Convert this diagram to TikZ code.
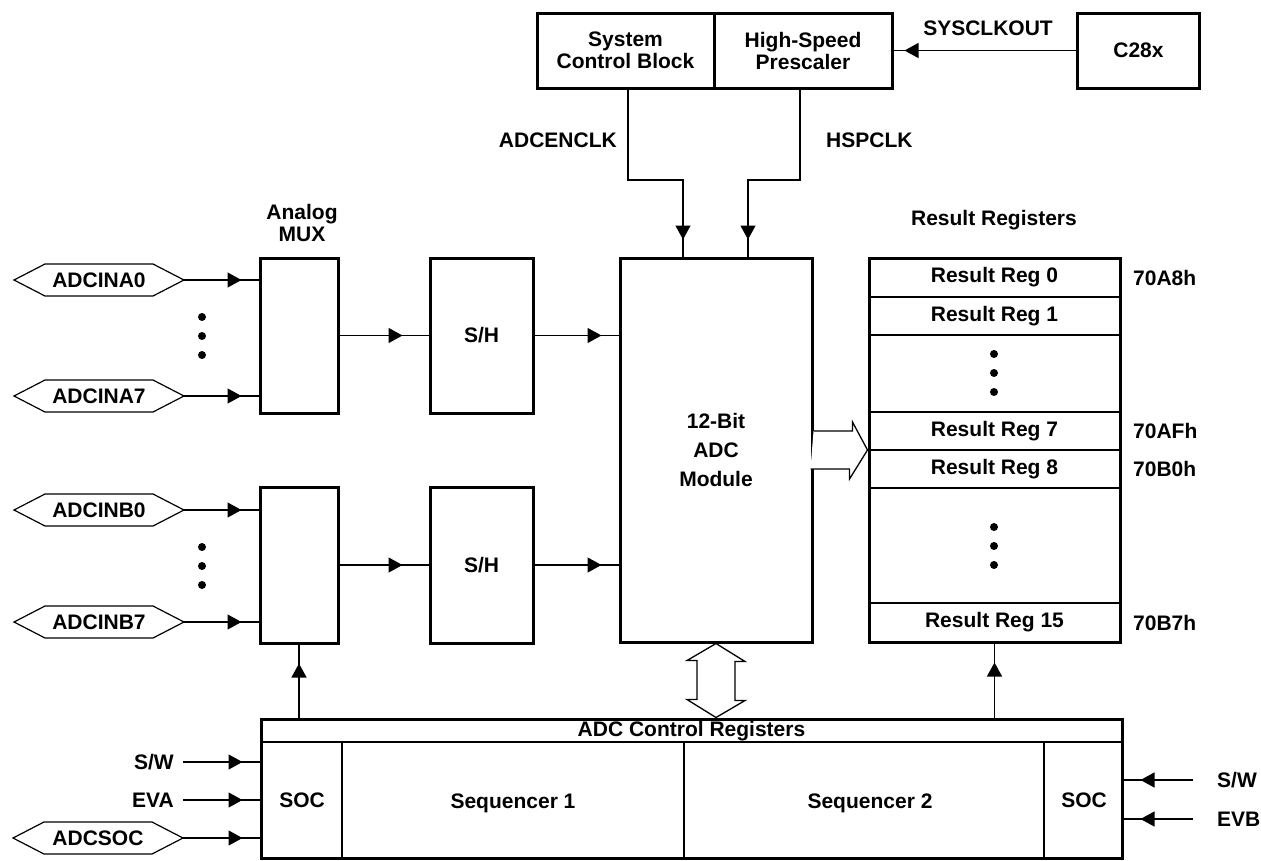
\documentclass[tikz,border=0pt]{standalone}
\usepackage{fontspec}
\setmainfont{Liberation Sans}
\usetikzlibrary{arrows.meta,decorations.markings}

\tikzset{
  blk/.style={draw, line width=3pt, inner sep=0pt},
  pin/.style={minimum width=170pt, minimum height=32pt, inner sep=0pt, outer sep=0pt},
  lbl/.style={inner sep=0pt},
  wire/.style={line width=1.3pt},
  midarr/.style={wire, postaction={decorate},
    decoration={markings, mark=at position -#1 with {\arrow{Triangle[length=14pt,width=15pt]}}}},
  midarr/.default=17pt,
  fat/.style={line width=1.3pt, fill=white, line join=miter}
}

\begin{document}
\begin{tikzpicture}[x=1pt,y=-1pt,font=\bfseries\fontsize{21}{22}\selectfont]
\useasboundingbox (0,0) rectangle (1261,860);
% clock sources
\node[blk, minimum width=177pt, minimum height=75pt, align=center] (scb) at (625.5,50.5) {System\\Control Block};
\node[blk, minimum width=178pt, minimum height=75pt, align=center] (hsp) at (803,50.5) {High-Speed\\Prescaler};
\node[blk, minimum width=122pt, minimum height=75pt] (c28x) at (1138.5,50.5) {C28x};
\draw[midarr=11pt] (c28x.west) -- (hsp.east);
\node (sclk) at (988,28) {SYSCLKOUT};

% main blocks
\node[blk, minimum width=78pt, minimum height=155pt] (mxa) at (299,335.5) {};
\node[blk, minimum width=78pt, minimum height=156pt] (mxb) at (299,565) {};
\node[blk, minimum width=103pt, minimum height=155pt] (sha) at (481.5,335.5) {S/H};
\node[blk, minimum width=103pt, minimum height=156pt] (shb) at (481.5,565) {S/H};
\node[blk, minimum width=192pt, minimum height=384pt, align=center,
  font=\bfseries\fontsize{21}{29}\selectfont] (adc) at (716,450) {12-Bit\\ADC\\Module};
\node[blk, minimum width=251pt, minimum height=384pt] (res) at (994.5,450) {};
\node[blk, minimum width=861pt, minimum height=139pt] (ctl) at (691.5,788.5) {};
\node[align=center] (muxlbl) at (302,223) {Analog\\MUX};
\node (reslbl) at (994,220) {Result Registers};

% clocks into the ADC
\coordinate (encA) at (628,180);
\coordinate (encB) at (683,180);
\coordinate (hspA) at (800,180);
\coordinate (hspB) at (748,180);
\draw[midarr] (scb.south -| encA) -- (encA) -- (encB) -- (adc.north -| encB);
\draw[midarr] (hsp.south -| hspA) -- (hspA) -- (hspB) -- (adc.north -| hspB);
\node[lbl, anchor=east] (enclbl) at (617,140) {ADCENCLK};
\node[lbl, anchor=west] (hsplbl) at (826,140) {HSPCLK};

% analog inputs
\node[pin] (ina0) at (99,280) {ADCINA0};
\node[pin] (ina7) at (99,396) {ADCINA7};
\node[pin] (inb0) at (99,510) {ADCINB0};
\node[pin] (inb7) at (99,622) {ADCINB7};
\foreach \p/\m in {ina0/mxa, ina7/mxa, inb0/mxb, inb7/mxb}
  \draw[midarr] (\p.east) -- (\m.west |- \p.east);
\foreach \y in {317,336,355,547,566,585}
  \fill (202,\y) circle (4);
\draw[midarr=26pt] (mxa.east) -- (sha.west);
\draw[midarr=26pt] (mxb.east) -- (shb.west);
\draw[midarr] (sha.east) -- (adc.west |- sha.east);
\draw[midarr] (shb.east) -- (adc.west |- shb.east);

% result registers
\foreach \y in {297,335,412,450,488,603}
  \draw[line width=1.4pt] (869,\y) -- (1120,\y);
\foreach \n/\y in {0/277.5,1/316,7/431,8/469,15/622.5}
  \node (reg\n) at (994.5,\y) {Result Reg \n};
\foreach \a/\y in {70A8h/277.5,70AFh/431,70B0h/469,70B7h/622.5}
  \node[lbl, anchor=west] (adr\a) at (1133,\y) {\a};
\foreach \y in {354,373,392,527,546,565}
  \fill (994,\y) circle (4);

% wide data paths
\draw[fat] (adc.east) ++(0,-19) -- ++(39,0) -- ++(0,-9) -- (res.west)
  -- ++(-18,29) -- ++(0,-10) -- ++(-39,0);
\draw[fat] (adc.south) -- ++(29,18) -- ++(-10,0) -- ++(0,39) -- ++(10,0)
  -- (ctl.north -| adc.south) -- ++(-29,-18) -- ++(10,0) -- ++(0,-39) -- ++(-10,0) -- cycle;

% control registers
\draw[wire] (261,742) -- (1122,742);
\foreach \x in {342,684,1044}
  \draw[wire] (\x,742) -- (\x,858);
\node (ctltl) at (691.5,731) {ADC Control Registers};
\node (soca) at (302,800) {SOC};
\node (seq1) at (513,803) {Sequencer 1};
\node (seq2) at (870,803) {Sequencer 2};
\node (socb) at (1084,800) {SOC};
\draw[midarr=19pt] (ctl.north -| mxb.south) -- (mxb.south);
\draw[midarr=19pt] (ctl.north -| res.south) -- (res.south);

% start of conversion
\node[lbl, inner xsep=9pt, anchor=east] (swa) at (183,762) {S/W};
\node[lbl, inner xsep=9pt, anchor=east] (eva) at (183,800) {EVA};
\node[pin] (socin) at (98,838) {ADCSOC};
\node[lbl, inner xsep=24pt, anchor=west] (swb) at (1193,780) {S/W};
\node[lbl, inner xsep=24pt, anchor=west] (evb) at (1193,819) {EVB};
\foreach \s in {swa,eva,socin}
  \draw[midarr] (\s.east) -- (ctl.west |- \s.east);
\foreach \s in {swb,evb}
  \draw[midarr] (\s.west) -- (ctl.east |- \s.west);

% pin outlines
\foreach \p in {ina0,ina7,inb0,inb7,socin}
  \draw[line width=1.2pt] (\p.west) -- ([xshift=31pt]\p.north west) -- ([xshift=-31pt]\p.north east)
    -- (\p.east) -- ([xshift=-31pt]\p.south east) -- ([xshift=31pt]\p.south west) -- cycle;
\end{tikzpicture}
\end{document}
